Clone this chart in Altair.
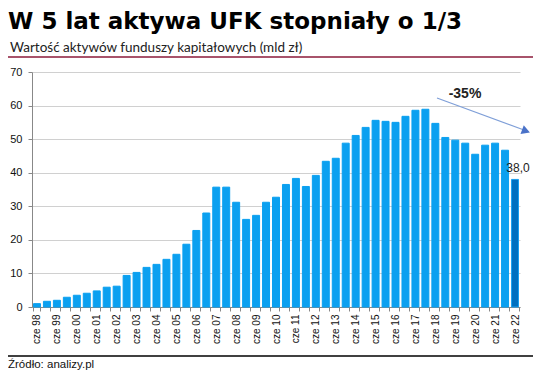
import altair as alt
import pandas as pd

years = list(range(98, 100)) + list(range(0, 23))
labels = []
for y in years:
    yy = f"{y:02d}"
    labels.append(f"cze {yy}")
    if y != 22:
        labels.append(f"gru {yy}")

values = [1.0, 1.7, 2.0, 2.9, 3.5, 4.1, 4.8, 5.9, 6.2, 9.4,
          10.3, 11.8, 12.7, 14.2, 15.7, 18.7, 22.8, 28.0, 35.7, 35.7,
          31.2, 26.1, 27.3, 31.2, 32.7, 36.5, 38.3, 35.9, 39.2, 43.4,
          44.3, 48.8, 51.1, 53.5, 55.6, 55.3, 55.0, 56.8, 58.6, 58.9,
          54.7, 50.5, 49.7, 48.8, 45.5, 48.2, 48.8, 46.7, 38.0]

highlight = ["no"] * (len(values) - 1) + ["yes"]
value_labels = [""] * (len(values) - 1) + ["38,0"]

df = pd.DataFrame({"okres": labels, "wartosc": values, "hl": highlight, "lab": value_labels})

W, H = 488, 235
OX, OY = 32, 72  # plot origin on page (incl. 8px margin): used for annotation offsets

x_enc = alt.X("okres:N", sort=labels, title=None,
              scale=alt.Scale(paddingInner=0.3, paddingOuter=0.15),
              axis=alt.Axis(labelAngle=-90, labelAlign="right", labelBaseline="middle",
                            labelExpr="indexof(datum.label, 'gru') == 0 ? '' : datum.label",
                            tickBand="extent", tickSize=4, tickColor="#888888",
                            domainColor="#888888", labelFont="Liberation Sans",
                            labelFontSize=10, labelColor="#111111", labelPadding=3,
                            labelOverlap=False, grid=False))
y_enc = alt.Y("wartosc:Q", title=None,
              scale=alt.Scale(domain=[0, 70]),
              axis=alt.Axis(values=[0, 10, 20, 30, 40, 50, 60, 70], tickSize=4,
                            tickColor="#888888", domainColor="#888888",
                            gridColor="#d0d0d0", labelFont="Liberation Sans",
                            labelFontSize=11, labelColor="#111111", labelPadding=6,
                            labelOverlap=False, labelFlush=False))

bars = alt.Chart(df).mark_bar().encode(
    x=x_enc, y=y_enc,
    color=alt.Color("hl:N", scale=alt.Scale(domain=["no", "yes"], range=["#0ba0f0", "#0070c0"]), legend=None),
    stroke=alt.Stroke("hl:N", scale=alt.Scale(domain=["no", "yes"], range=["#0ba0f0", "#1aa0f0"]), legend=None),
)

vlabel = alt.Chart(df).transform_filter("datum.lab != ''").mark_text(
    baseline="bottom", dy=-4, dx=3, font="Liberation Sans", fontSize=12, color="#222222"
).encode(x=x_enc, y=y_enc, text="lab:N")

def txt(s, x, y, **kw):
    return alt.Chart(pd.DataFrame({"t": [s]})).mark_text(align="left", baseline="alphabetic", **kw).encode(
        x=alt.value(x - OX), y=alt.value(y - OY), text="t:N")

title = txt("W 5 lat aktywa UFK stopniały o 1/3", 8, 29, font="DejaVu Sans", fontWeight="bold", fontSize=23, color="#000000")
subtitle = txt("Wartość aktywów funduszy kapitałowych (mld zł)", 10, 52, font="Lato", fontSize=13.5, color="#222222")
source = txt("Źródło: analizy.pl", 8, 368, font="Liberation Sans", fontSize=11.5, color="#111111")
pct = alt.Chart(pd.DataFrame({"t": ["-35%"]})).mark_text(align="center", baseline="middle", font="Liberation Sans",
                                                         fontSize=14, fontWeight="bold", color="#222222").encode(
    x=alt.value(465 - OX), y=alt.value(94 - OY), text="t:N")

def rule(x1, x2, y1, y2, color, width):
    return alt.Chart(pd.DataFrame({"a": [0]})).mark_rule(color=color, strokeWidth=width).encode(
        x=alt.value(x1 - OX), x2=alt.value(x2 - OX), y=alt.value(y1 - OY), y2=alt.value(y2 - OY))

line_top = rule(8, 541, 57, 57, "#8b1a3a", 1.5)
line_bot = rule(0, 541, 356, 356, "#000000", 1.5)
arrow = rule(437, 524, 98, 130, "#7f9fd8", 1.2)
head = alt.Chart(pd.DataFrame({"a": [0]})).mark_point(shape="triangle-right", filled=True, size=90,
                                                      angle=20, color="#4a72c8", opacity=1).encode(
    x=alt.value(526 - OX), y=alt.value(131 - OY))

chart = alt.layer(bars, vlabel, title, subtitle, source, pct, line_top, line_bot, arrow, head).properties(
    width=W, height=H,
    autosize=alt.AutoSizeParams(type="none"),
    padding={"left": OX - 8, "top": OY - 8, "right": 541 - OX - W - 8, "bottom": 379 - OY - H - 8},
    background="white",
).configure_view(stroke=None)

chart.save("out.html", embed_options={"renderer": "svg", "actions": False})
